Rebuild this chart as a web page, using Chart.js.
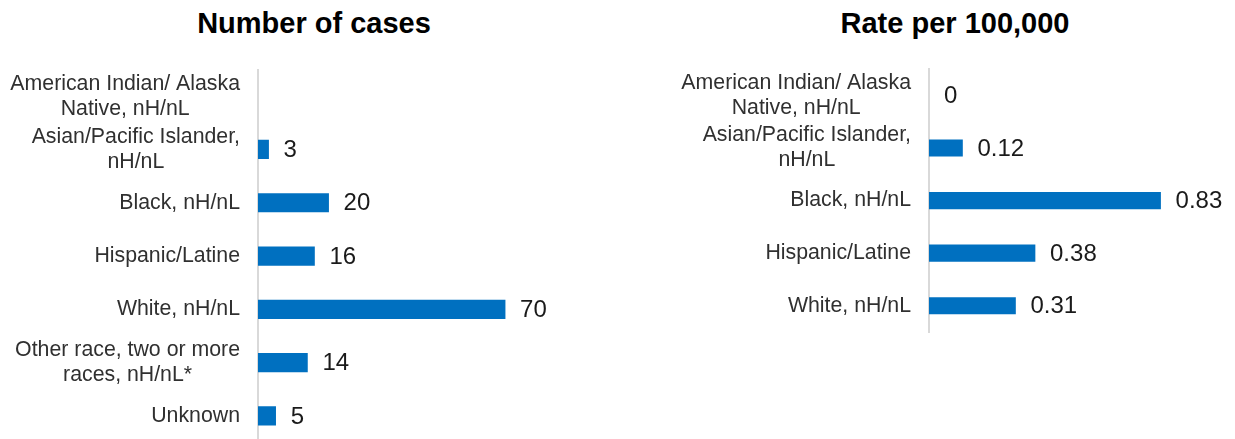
<!DOCTYPE html>
<html>
<head>
<meta charset="utf-8">
<script src="https://cdn.jsdelivr.net/npm/chart.js@4/dist/chart.umd.min.js"></script>
<style>
  body { margin: 0; width: 1235px; height: 439px; overflow: hidden; background: #fff; }
  .panel { position: absolute; top: 0; }
  .title {
    position: absolute; top: 9px; transform: translateX(-50%);
    font: bold 29px/29px "Liberation Sans", Arial, sans-serif; color: #000; white-space: nowrap;
  }
</style>
</head>
<body>
<div class="title" style="left:314px">Number of cases</div>
<div class="title" style="left:955px">Rate per 100,000</div>
<div class="panel" style="left:0;width:620px;height:446px"><canvas id="casesChart"></canvas></div>
<div class="panel" style="left:640px;width:595px;height:446px"><canvas id="rateChart"></canvas></div>
<script>
const caseCategories = [
    ['American Indian/ Alaska', 'Native, nH/nL'],
    ['Asian/Pacific Islander,', 'nH/nL'],
    'Black, nH/nL',
    'Hispanic/Latine',
    'White, nH/nL',
    ['Other race, two or more', 'races, nH/nL*'],
    'Unknown'
];
const caseCounts = [null, 3, 20, 16, 70, 14, 5];

const rateCategories = [
    ['American Indian/ Alaska', 'Native, nH/nL'],
    ['Asian/Pacific Islander,', 'nH/nL'],
    'Black, nH/nL',
    'Hispanic/Latine',
    'White, nH/nL'
];
const rateValues = [0, 0.12, 0.83, 0.38, 0.31];

const FONT = '"Liberation Sans", Arial, sans-serif';
const BAR_COLOR = '#0070C0';

// category labels: each block right-aligned at the axis, lines centred inside the block
const categoryLabels = {
    id: 'categoryLabels',
    afterDraw(chart) {
        const ctx = chart.ctx;
        const yScale = chart.scales.y;
        const right = chart.chartArea.left - 18;
        ctx.save();
        ctx.font = '21.3px ' + FONT;
        ctx.fillStyle = '#303030';
        ctx.textAlign = 'center';
        ctx.textBaseline = 'middle';
        chart.data.labels.forEach((lbl, i) => {
            const lines = Array.isArray(lbl) ? lbl : [lbl];
            const w = Math.max(...lines.map(l => ctx.measureText(l).width));
            const cy = yScale.getPixelForTick(i);
            lines.forEach((line, j) => {
                ctx.fillText(line, right - w / 2, cy + (j - (lines.length - 1) / 2) * 25);
            });
        });
        ctx.restore();
    }
};

// value printed just past the end of each bar
const valueLabels = {
    id: 'valueLabels',
    afterDatasetsDraw(chart) {
        const ctx = chart.ctx;
        const meta = chart.getDatasetMeta(0);
        const values = chart.data.datasets[0].data;
        ctx.save();
        ctx.font = '24px ' + FONT;
        ctx.fillStyle = '#1a1a1a';
        ctx.textAlign = 'left';
        ctx.textBaseline = 'middle';
        meta.data.forEach((bar, i) => {
            if (values[i] === null) return;
            ctx.fillText(String(values[i]), bar.x + 15, bar.y + 1);
        });
        ctx.restore();
    }
};

function makeChart(id, labels, values, cfg) {
    return new Chart(document.getElementById(id), {
        type: 'bar',
        data: {
            labels: labels,
            datasets: [{
                data: values,
                // a zero value has no visible bar, only its label
                backgroundColor: (c) => c.raw === 0 ? 'rgba(0,0,0,0)' : BAR_COLOR,
                barThickness: cfg.barThickness
            }]
        },
        options: {
            indexAxis: 'y',
            responsive: true,
            maintainAspectRatio: false,
            animation: false,
            layout: { padding: cfg.padding },
            plugins: { legend: { display: false }, tooltip: { enabled: false } },
            scales: {
                x: { display: false, min: 0, max: cfg.max },
                y: {
                    grid: { display: false, drawTicks: false },
                    border: { display: true, color: '#d9d9d9', width: 2 },
                    ticks: { display: false },
                    afterFit: (scale) => { scale.width = cfg.axisWidth; }
                }
            }
        },
        plugins: [categoryLabels, valueLabels]
    });
}

makeChart('casesChart', caseCategories, caseCounts, {
    max: 100, axisWidth: 258, barThickness: 18.5,
    padding: { top: 69.5, bottom: 3.4, left: 0, right: 9 }
});

makeChart('rateChart', rateCategories, rateValues, {
    max: 1, axisWidth: 289, barThickness: 16.5,
    padding: { top: 69.2, bottom: 114, left: 0, right: 27 }
});
</script>
</body>
</html>
